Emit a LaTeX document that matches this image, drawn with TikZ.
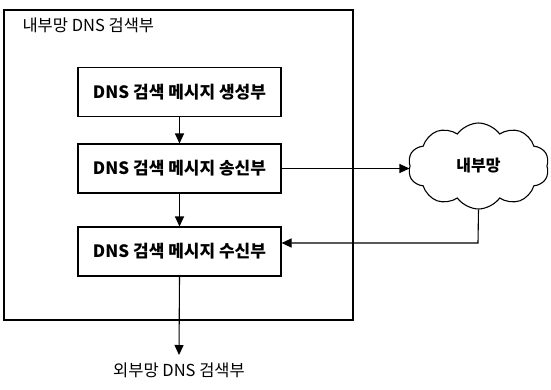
\documentclass[tikz,border=0pt]{standalone}
\usepackage{fontspec}
\setmainfont{Noto Sans CJK KR}
\usetikzlibrary{arrows.meta,shapes.symbols}
\begin{document}
\begin{tikzpicture}[x=1pt,y=-1pt,line width=1.1pt,
  blk/.style={draw,minimum width=203pt,minimum height=49pt,inner sep=0pt,font=\fontsize{17}{19}\selectfont\bfseries},
  lbl/.style={inner sep=0pt,font=\fontsize{16.5}{19}\selectfont},
  arr/.style={-{Triangle[length=10pt,width=9pt]}}]
\useasboundingbox (0,0) rectangle (551,389);
\node[draw,minimum width=349pt,minimum height=310pt,inner sep=0pt] (outer) at (178.5,165) {};
\node[lbl,anchor=west] (title) at (22,25) {내부망 DNS 검색부};
\node[blk] (gen) at (179.5,92) {DNS 검색 메시지 생성부};
\node[blk] (snd) at (179.5,168.5) {DNS 검색 메시지 송신부};
\node[blk] (rcv) at (179.5,251.5) {DNS 검색 메시지 수신부};
\node[draw,cloud,cloud puffs=10,cloud puff arc=110,aspect=1.6,minimum width=141pt,minimum height=86pt,inner sep=0pt,font=\fontsize{16}{19}\selectfont\bfseries] (net) at (478.5,166) {내부망};
\node[lbl] (ext) at (179,370) {외부망 DNS 검색부};
\coordinate (extin) at (179,355);
\coordinate (ret) at (478,243);
\draw[arr] (gen) -- (snd);
\draw[arr] (snd) -- (rcv);
\draw[arr] (rcv.south) -- (extin);
\draw[arr] (snd.east) -- (snd.east -| net.west);
\draw[arr] (net.south) -- (ret) -- (rcv.east |- ret);
\end{tikzpicture}
\end{document}
